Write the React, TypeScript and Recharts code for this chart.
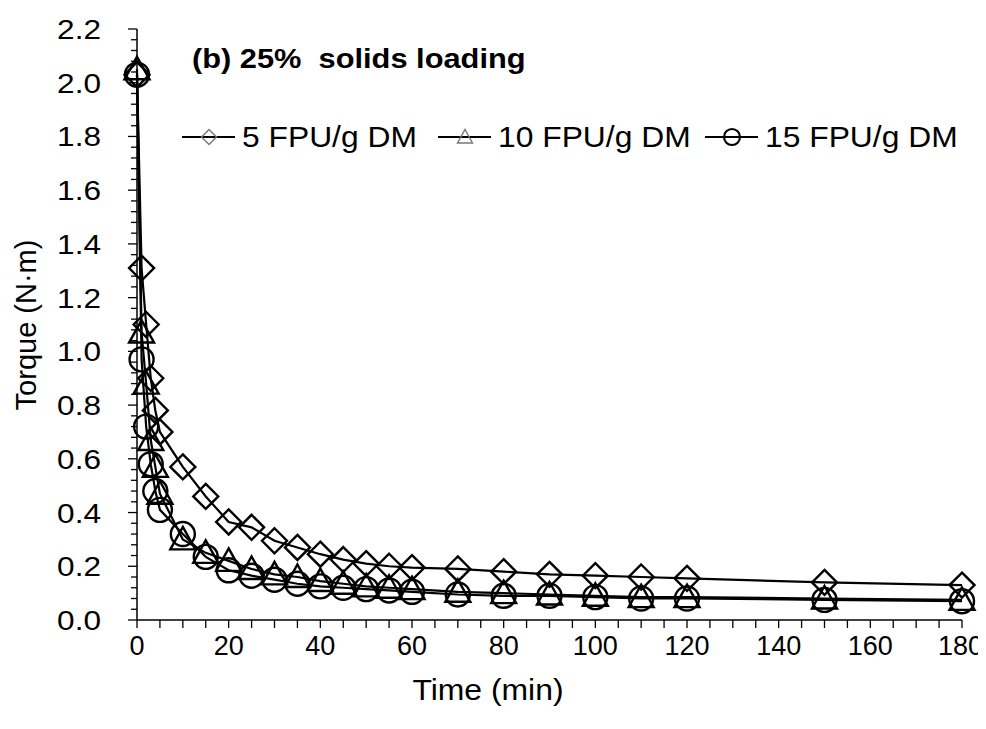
import React from 'react';
import { LineChart, Line, XAxis, YAxis, Legend, Label } from 'recharts';

// time points (min)
const times = [0, 1, 2, 3, 4, 5, 10, 15, 20, 25, 30, 35, 40, 45, 50, 55, 60, 70, 80, 90, 100, 110, 120, 150, 180];

// torque (N·m) per enzyme loading
const fpu5 = [2.03, 1.31, 1.1, 0.9, 0.78, 0.7, 0.57, 0.46, 0.365, 0.345, 0.295, 0.27, 0.245, 0.225, 0.21, 0.2, 0.195, 0.19, 0.18, 0.17, 0.165, 0.16, 0.155, 0.14, 0.13];
const fpu10 = [2.05, 1.07, 0.88, 0.67, 0.57, 0.47, 0.3, 0.25, 0.22, 0.19, 0.17, 0.16, 0.145, 0.135, 0.125, 0.12, 0.115, 0.105, 0.1, 0.095, 0.09, 0.085, 0.085, 0.08, 0.075];
const fpu15 = [2.03, 0.97, 0.72, 0.58, 0.48, 0.41, 0.32, 0.235, 0.185, 0.165, 0.15, 0.135, 0.125, 0.12, 0.115, 0.11, 0.105, 0.095, 0.09, 0.09, 0.085, 0.08, 0.08, 0.075, 0.07];

const seriesNames = ['5 FPU/g DM', '10 FPU/g DM', '15 FPU/g DM'];

const xTicks = Array.from({ length: 37 }, (_, i) => i * 5);
const yTicks = Array.from({ length: 56 }, (_, i) => Math.round(i * 4) / 100);

const data = times.map((t, i) => ({ t, a: fpu5[i], b: fpu10[i], c: fpu15[i] }));

const FONT = '"Liberation Sans", Arial, sans-serif';

// text stretched horizontally around its anchor x (the reference type is a bit wide)
const SText = ({ x, y, sx = 1, children, ...rest }: any) => (
  <text x={x} y={y} fontFamily={FONT} fill="#000" transform={`matrix(${sx},0,0,1,${x * (1 - sx)},0)`} style={{ whiteSpace: 'pre' }} {...rest}>
    {children}
  </text>
);

type Shape = 'diamond' | 'triangle' | 'circle';

const Marker = ({ cx, cy, shape, r, stroke, sw }: { cx: number; cy: number; shape: Shape; r: number; stroke: string; sw: number }) => {
  if (shape === 'diamond') {
    return <polygon points={`${cx},${cy - r} ${cx + r},${cy} ${cx},${cy + r} ${cx - r},${cy}`} fill="none" stroke={stroke} strokeWidth={sw} />;
  }
  if (shape === 'triangle') {
    return <polygon points={`${cx},${cy - r} ${cx + r},${cy + r * 0.8} ${cx - r},${cy + r * 0.8}`} fill="none" stroke={stroke} strokeWidth={sw} />;
  }
  return <circle cx={cx} cy={cy} r={r} fill="none" stroke={stroke} strokeWidth={sw} />;
};

const makeDot = (shape: Shape) => (props: any) => (
  <Marker key={`${shape}-${props.index}`} cx={props.cx} cy={props.cy} shape={shape} r={shape === 'circle' ? 12 : 12.5} stroke="#000" sw={2.4} />
);

const XTick = (props: any) => {
  const { x, y, payload } = props;
  const major = payload.value % 20 === 0;
  const last = payload.value === 180;
  return (
    <g>
      <line x1={x} y1={y} x2={x} y2={y + 8} stroke="#000" strokeWidth={1.3} />
      {major && (
        <SText x={last ? x + 21 : x} y={y + 35} textAnchor={last ? 'end' : 'middle'} fontSize={27}>
          {payload.value}
        </SText>
      )}
    </g>
  );
};

const YTick = (props: any) => {
  const { x, y, payload } = props;
  const v = Math.round(payload.value * 100);
  const major = v % 20 === 0;
  return (
    <g>
      <line x1={x} y1={y} x2={x - (major ? 9 : 6)} y2={y} stroke="#000" strokeWidth={1.3} />
      {major && (
        <SText x={x - 36} y={y + 10} sx={1.17} textAnchor="end" fontSize={27}>
          {(v / 100).toFixed(1)}
        </SText>
      )}
    </g>
  );
};

const shapes: Shape[] = ['diamond', 'triangle', 'circle'];

const LegendContent = () => (
  <div style={{ display: 'flex', alignItems: 'center', fontFamily: FONT, fontSize: 30, color: '#000' }}>
    {seriesNames.map((n, i) => (
      <div key={n} style={{ display: 'flex', alignItems: 'center', marginRight: i === 0 ? 20 : 14 }}>
        <svg width={53} height={30}>
          <line x1={0} y1={15} x2={53} y2={15} stroke="#000" strokeWidth={2.2} />
          <Marker cx={27} cy={15} shape={shapes[i]} r={i === 2 ? 8 : 7.5} stroke={i === 2 ? '#000' : '#777'} sw={i === 2 ? 2.2 : 1.4} />
        </svg>
        <span style={{ marginLeft: 7, display: 'inline-block', transform: 'scaleX(1.06)', transformOrigin: 'left center', marginRight: 11 }}>{n}</span>
      </div>
    ))}
  </div>
);

export default function App() {
  return (
    <div style={{ width: 978, height: 713, position: 'relative', background: '#fff' }}>
      <style>{'.recharts-surface { overflow: visible; }'}</style>
      <LineChart width={978} height={713} data={data} margin={{ top: 21, right: 24, bottom: 0, left: 0 }}>
        <XAxis
          dataKey="t"
          type="number"
          domain={[0, 180]}
          ticks={xTicks}
          interval={0}
          tickSize={0}
          tickMargin={0}
          tick={<XTick />}
          axisLine={{ stroke: '#000', strokeWidth: 1.5 }}
          height={101}
        >
          <Label
            content={() => (
              <SText x={480} y={692} sx={1.1} textAnchor="middle" fontSize={29}>
                Time (min)
              </SText>
            )}
          />
        </XAxis>
        <YAxis
          type="number"
          domain={[0, 2.2]}
          ticks={yTicks}
          interval={0}
          tickSize={0}
          tickMargin={0}
          tick={<YTick />}
          axisLine={{ stroke: '#000', strokeWidth: 1.5 }}
          width={129}
        >
          <Label
            content={() => (
              <text x={28} y={317} textAnchor="middle" fontSize={29} fontFamily={FONT} fill="#000" transform="rotate(-90, 28, 317)">
                Torque (N·m)
              </text>
            )}
          />
        </YAxis>
        <Legend
          layout="horizontal"
          verticalAlign="middle"
          content={<LegendContent />}
          wrapperStyle={{ top: 112, left: 174, width: 'auto' }}
        />
        <SText x={184} y={60} sx={1.1} fontSize={28} fontWeight="bold">
          (b) 25%  solids loading
        </SText>
        <Line dataKey="a" name={seriesNames[0]} stroke="#000" strokeWidth={2.2} dot={makeDot('diamond')} isAnimationActive={false} />
        <Line dataKey="b" name={seriesNames[1]} stroke="#000" strokeWidth={2.2} dot={makeDot('triangle')} isAnimationActive={false} />
        <Line dataKey="c" name={seriesNames[2]} stroke="#000" strokeWidth={2.2} dot={makeDot('circle')} isAnimationActive={false} />
      </LineChart>
    </div>
  );
}
